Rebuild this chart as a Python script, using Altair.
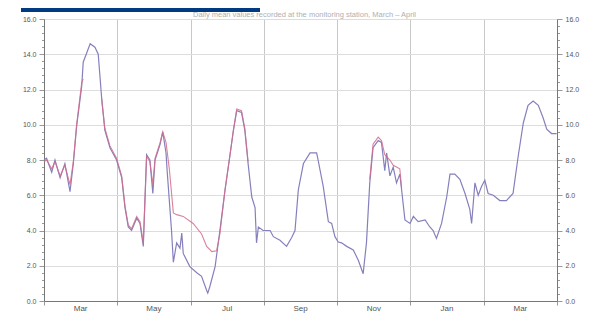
import altair as alt
import pandas as pd

# x = months since 1 March (each grid interval = 2 months)
blue_x = [0.00, 0.07, 0.21, 0.30, 0.44, 0.57, 0.71, 0.80, 0.89, 1.03, 1.07, 1.17, 1.26, 1.39, 1.48,
          1.57, 1.66, 1.80, 1.98, 2.12, 2.21, 2.30, 2.39, 2.53, 2.62, 2.71, 2.80, 2.89, 2.97, 3.03,
          3.17, 3.24, 3.33, 3.36, 3.48, 3.53, 3.62, 3.71, 3.76, 3.80, 3.98, 4.17, 4.30, 4.44, 4.47,
          4.53, 4.67, 4.80, 4.94, 5.07, 5.17, 5.26, 5.39, 5.48, 5.57, 5.67, 5.76, 5.80, 5.85, 5.98,
          6.17, 6.26, 6.44, 6.62, 6.76, 6.85, 6.94, 7.08, 7.26, 7.44, 7.48, 7.62, 7.76, 7.85, 7.94,
          8.03, 8.12, 8.26, 8.44, 8.58, 8.71, 8.80, 8.89, 8.98, 9.12, 9.21, 9.30, 9.35, 9.44, 9.53,
          9.62, 9.71, 9.76, 9.85, 9.99, 10.08, 10.21, 10.40, 10.53, 10.62, 10.71, 10.85, 10.99, 11.08,
          11.21, 11.35, 11.49, 11.62, 11.67, 11.76, 11.85, 11.94, 12.03, 12.12, 12.26, 12.44, 12.62,
          12.80, 12.94, 13.08, 13.21, 13.35, 13.49, 13.62, 13.72, 13.85, 13.99]
blue_y = [8.0, 8.1, 7.3, 8.0, 7.0, 7.8, 6.2, 7.8, 9.9, 12.2, 13.55, 14.1, 14.6, 14.4, 14.0,
          11.6, 9.7, 8.7, 8.0, 7.0, 5.3, 4.2, 4.0, 4.7, 4.4, 3.1, 8.3, 8.0, 6.1, 8.0,
          8.9, 9.6, 8.4, 7.4, 4.0, 2.2, 3.3, 3.0, 3.85, 2.7, 1.95, 1.6, 1.4, 0.6, 0.45,
          0.85, 1.95, 4.0, 6.3, 8.2, 9.7, 10.8, 10.7, 9.7, 7.8, 5.9, 5.3, 3.3, 4.2, 4.0,
          4.0, 3.65, 3.45, 3.1, 3.6, 4.0, 6.3, 7.8, 8.4, 8.4, 8.0, 6.5, 4.5, 4.4, 3.65,
          3.35, 3.3, 3.1, 2.9, 2.3, 1.55, 3.3, 6.7, 8.7, 9.1, 9.0, 7.4, 8.4, 7.1, 7.6,
          6.7, 7.2, 6.3, 4.6, 4.4, 4.8, 4.5, 4.6, 4.2, 4.0, 3.55, 4.4, 5.9, 7.2,
          7.2, 6.9, 6.1, 5.2, 4.4, 6.7, 6.0, 6.5, 6.85, 6.1, 6.0, 5.7, 5.7,
          6.1, 8.2, 10.1, 11.1, 11.35, 11.1, 10.4, 9.75, 9.5, 9.5]

red_x = [0.00, 0.07, 0.21, 0.30, 0.44, 0.57, 0.71, 0.80, 0.89, 1.03, 1.07,
         1.57, 1.66, 1.80, 1.98, 2.12, 2.21, 2.30, 2.39, 2.53, 2.62, 2.71, 2.80, 2.89, 2.97,
         3.03, 3.17, 3.24, 3.33, 3.42, 3.53, 3.62, 3.80, 4.07, 4.30, 4.44, 4.58, 4.71, 4.80,
         4.94, 5.07, 5.17, 5.26, 5.39, 5.48, 5.57,
         8.89, 8.98, 9.12, 9.21, 9.30, 9.44, 9.53, 9.62, 9.71, 9.76]
red_y = [7.9, 8.0, 7.5, 7.9, 7.1, 7.7, 6.6, 7.9, 10.0, 12.4, 12.6,
         11.5, 9.8, 8.8, 8.1, 7.1, 5.4, 4.3, 4.1, 4.8, 4.5, 3.3, 8.2, 7.9, 6.6,
         8.1, 9.0, 9.6, 9.0, 7.5, 5.0, 4.9, 4.8, 4.4, 3.8, 3.1, 2.8, 2.85, 3.8,
         6.3, 8.2, 9.7, 10.9, 10.8, 9.8, 7.9,
         6.9, 8.9, 9.3, 9.1, 8.3, 8.0, 7.7, 7.6, 7.5, 6.4]
red_seg = [1] * 11 + [2] * 35 + [3] * 10

month_labels = ["Mar", "May", "Jul", "Sep", "Nov", "Jan", "Mar"]
month_pos = [1, 3, 5, 7, 9, 11, 13]
x_ticks = list(range(15))
y_ticks = [round(i * 0.4, 1) for i in range(41)]

title_text = "Daily mean values recorded at the monitoring station, March – April"

blue = pd.DataFrame({"m": blue_x, "v": blue_y})
red = pd.DataFrame({"m": red_x, "v": red_y, "seg": red_seg})
months = pd.DataFrame({"m": month_pos, "lab": month_labels})
dummy = pd.DataFrame({"t": [title_text]})

FONT = "Liberation Sans"
W, H = 513, 282

xscale = alt.Scale(domain=[0, 14], nice=False, zero=False)
yscale = alt.Scale(domain=[0, 16], nice=False, zero=True)

x_axis = alt.Axis(
    values=x_ticks,
    labels=False,
    title=None,
    grid=True,
    gridColor={"condition": {"test": "datum.value % 2 == 0", "value": "#c8c8c8"}, "value": "transparent"},
    gridWidth=1,
    tickSize={"condition": {"test": "datum.value % 2 == 0", "value": 4}, "value": 2},
    tickColor="#999999",
    domainColor="#777777",
)

def y_axis(orient, grid):
    return alt.Axis(
        orient=orient,
        values=y_ticks,
        labelExpr="datum.value % 2 == 0 ? format(datum.value, '.1f') : ''",
        labelFlush=False,
        labelOverlap=False,
        labelFont=FONT,
        labelFontSize=7,
        labelColor="#555555",
        labelPadding=3,
        title=None,
        grid=grid,
        gridColor={"condition": {"test": "datum.value % 2 == 0", "value": "#dddddd"}, "value": "transparent"},
        tickSize={"condition": {"test": "datum.value % 2 == 0", "value": 5}, "value": 2.5},
        tickColor="#999999",
        domainColor="#777777",
    )

blue_line = alt.Chart(blue).mark_line(color="#8580bc", strokeWidth=1.2).encode(
    x=alt.X("m:Q", scale=xscale, axis=x_axis),
    y=alt.Y("v:Q", scale=yscale, axis=y_axis("left", True)),
)

red_line = alt.Chart(red).mark_line(color="#d46c8c", strokeWidth=1.1, opacity=0.85).encode(
    x=alt.X("m:Q", scale=xscale),
    y=alt.Y("v:Q", scale=yscale, axis=y_axis("right", False)),
    detail="seg:N",
)

month_text = alt.Chart(months).mark_text(
    font=FONT, fontSize=8, color="#555555", baseline="top", align="center"
).encode(x=alt.X("m:Q", scale=xscale), y=alt.value(H + 4), text="lab:N")

header = alt.Chart(dummy).mark_rect(color="#003a80").encode(
    x=alt.value(-23), x2=alt.value(216), y=alt.value(-11), y2=alt.value(-7)
)

title = alt.Chart(dummy).mark_text(
    font=FONT, fontSize=7.5, color="#b0b0b0", baseline="bottom", align="center"
).encode(text="t:N", x=alt.value(W / 2 + 4), y=alt.value(0))

chart = alt.layer(blue_line, red_line, month_text, header, title).resolve_scale(y="independent").properties(
    width=W,
    height=H,
    autosize=alt.AutoSizeParams(type="none"),
    padding={"left": 36, "top": 11, "right": 28, "bottom": 12},
).configure_view(stroke=None).configure(background="white")

chart.save("out.html", embed_options={"renderer": "svg", "actions": False})
